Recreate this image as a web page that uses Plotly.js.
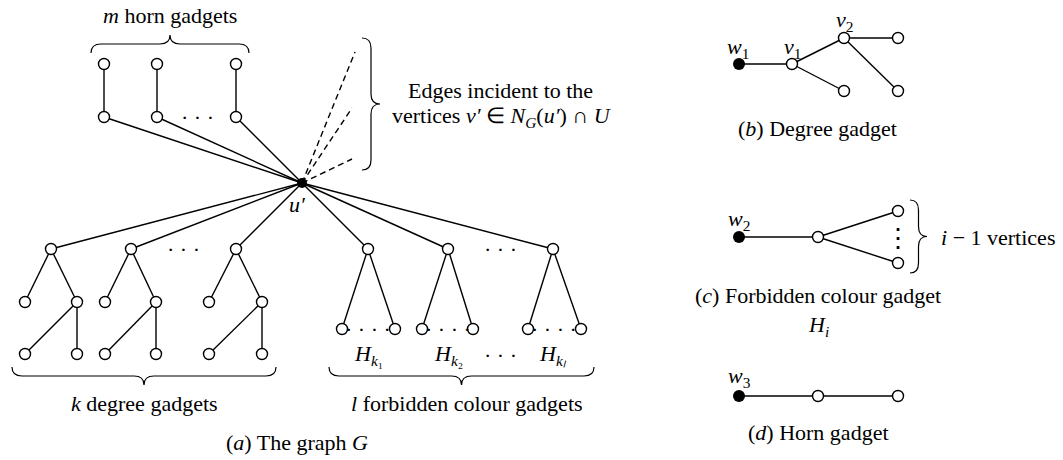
<!DOCTYPE html>
<html><head><meta charset="utf-8">
<script src="https://cdn.plot.ly/plotly-3.0.1.min.js"></script>
<style>html,body{margin:0;padding:0;background:#fff}#g{width:1063px;height:460px}</style>
</head><body><div id="g"></div>
<script>
// ---- Graph G (a) ----
const uPrime = [302, 183];
const hornX = [104, 157, 236];
const hornTopY = [64, 64, 64];
const hornBotY = [117, 117, 117];
const degRootX = [51, 131, 236];
const degRootY = [249, 249, 249];
const degMidLX = [25, 105, 209];
const degMidRX = [77, 156, 262];
const degMidY = [302, 302, 302];
const degLeafY = [354, 354, 354];
const forbRootX = [368, 448, 553];
const forbRootY = [249, 249, 249];
const forbLeafLX = [342, 422, 528];
const forbLeafRX = [395, 473, 581];
const forbLeafY = [329, 329, 329];
const dashEndX = [355, 352, 352];
const dashEndY = [52, 108, 159];
// ---- Degree gadget (b) ----
const bX = [739, 792, 844, 898, 844, 898];
const bY = [64, 64, 38, 38, 91, 91];
const bEdges = [[0,1],[1,2],[1,4],[2,3],[2,5]];
// ---- Forbidden colour gadget (c) ----
const cX = [739, 818, 898, 898];
const cY = [237, 237, 211, 263];
const cEdges = [[0,1],[1,2],[1,3]];
// ---- Horn gadget (d) ----
const dX = [739, 818, 898];
const dY = [396, 396, 396];
const dEdges = [[0,1],[1,2]];

// ---- build edges ----
const ex = [], ey = [];
function edge(a, b){ ex.push(a[0], b[0], null); ey.push(a[1], b[1], null); }
for (let i = 0; i < 3; i++) {
  edge([hornX[i], hornTopY[i]], [hornX[i], hornBotY[i]]);
  edge([hornX[i], hornBotY[i]], uPrime);
  edge([degRootX[i], degRootY[i]], uPrime);
  edge([degRootX[i], degRootY[i]], [degMidLX[i], degMidY[i]]);
  edge([degRootX[i], degRootY[i]], [degMidRX[i], degMidY[i]]);
  edge([degMidRX[i], degMidY[i]], [degMidLX[i], degLeafY[i]]);
  edge([degMidRX[i], degMidY[i]], [degMidRX[i], degLeafY[i]]);
  edge([forbRootX[i], forbRootY[i]], uPrime);
  edge([forbRootX[i], forbRootY[i]], [forbLeafLX[i], forbLeafY[i]]);
  edge([forbRootX[i], forbRootY[i]], [forbLeafRX[i], forbLeafY[i]]);
}
[[bX,bY,bEdges],[cX,cY,cEdges],[dX,dY,dEdges]].forEach(([X,Y,E]) => {
  E.forEach(([a,b]) => edge([X[a],Y[a]],[X[b],Y[b]]));
});
const dx = [], dy = [];
for (let i = 0; i < 3; i++) { dx.push(uPrime[0], dashEndX[i], null); dy.push(uPrime[1], dashEndY[i], null); }

// ---- nodes ----
const ox = [], oy = [];
for (let i = 0; i < 3; i++) {
  ox.push(hornX[i], hornX[i]); oy.push(hornTopY[i], hornBotY[i]);
  ox.push(degRootX[i], degMidLX[i], degMidRX[i], degMidLX[i], degMidRX[i]);
  oy.push(degRootY[i], degMidY[i], degMidY[i], degLeafY[i], degLeafY[i]);
  ox.push(forbRootX[i], forbLeafLX[i], forbLeafRX[i]);
  oy.push(forbRootY[i], forbLeafY[i], forbLeafY[i]);
}
ox.push(...bX.slice(1), ...cX.slice(1), ...dX.slice(1));
oy.push(...bY.slice(1), ...cY.slice(1), ...dY.slice(1));

const LW = 1.4;
const traces = [
  {x: ex, y: ey, mode: 'lines', line: {color: '#000', width: LW}, hoverinfo: 'skip'},
  {x: dx, y: dy, mode: 'lines', line: {color: '#000', width: LW, dash: '6px,4px'}, hoverinfo: 'skip'},
  {x: ox, y: oy, mode: 'markers', marker: {size: 11, color: '#fff', line: {color: '#000', width: LW}}, hoverinfo: 'skip'},
  {x: [bX[0], cX[0], dX[0]], y: [bY[0], cY[0], dY[0]], mode: 'markers', marker: {size: 12, color: '#000'}, hoverinfo: 'skip'},
  {x: [uPrime[0]], y: [uPrime[1]], mode: 'markers', marker: {size: 10, color: '#000'}, hoverinfo: 'skip'}
];

// ---- braces ----
function hBrace(x1, x2, yb, yt, r) {
  const m = (yb + yt) / 2, xc = (x1 + x2) / 2;
  return `M${x1},${yb} Q${x1},${m} ${x1+r},${m} L${xc-r},${m} Q${xc},${m} ${xc},${yt} Q${xc},${m} ${xc+r},${m} L${x2-r},${m} Q${x2},${m} ${x2},${yb}`;
}
function vBrace(y1, y2, xb, xt, r) {
  const m = (xb + xt) / 2, yc = (y1 + y2) / 2;
  return `M${xb},${y1} Q${m},${y1} ${m},${y1+r} L${m},${yc-r} Q${m},${yc} ${xt},${yc} Q${m},${yc} ${m},${yc+r} L${m},${y2-r} Q${m},${y2} ${xb},${y2}`;
}
const braceStyle = {color: '#000', width: 1.2};
const shapes = [
  hBrace(91, 249, 53, 35, 10),
  hBrace(12, 276, 367, 385, 10),
  hBrace(329, 594, 367, 385, 10),
  vBrace(38, 170, 362, 380, 10),
  vBrace(200, 273, 910, 927, 10)
].map(p => ({type: 'path', path: p, xref: 'x', yref: 'y', line: braceStyle}));

// ---- text ----
const F = {family: '"Liberation Serif", "Times New Roman", Times, serif', size: 22, color: '#000'};
function T(x, y, text, extra) {
  return Object.assign({x, y, xref: 'x', yref: 'y', text, showarrow: false, font: F, xanchor: 'center', yanchor: 'middle'}, extra || {});
}
const annotations = [
  T(170, 15, '<i>m</i> horn gadgets'),
  T(500, 90, 'Edges incident to the'),
  T(502, 117, 'vertices <i>v′</i> ∈ <i>N</i><sub><i>G</i></sub>(<i>u′</i>) ∩ <i>U</i>'),
  T(297, 204, '<i>u′</i>'),
  T(197, 117, '·&nbsp;·&nbsp;·'),
  T(183, 249, '·&nbsp;·&nbsp;·'),
  T(500, 249, '·&nbsp;·&nbsp;·'),
  T(500, 355, '·&nbsp;·&nbsp;·'),
  T(368, 329, '·&nbsp;·&nbsp;·&nbsp;·'),
  T(448, 329, '·&nbsp;·&nbsp;·&nbsp;·'),
  T(554, 329, '·&nbsp;·&nbsp;·&nbsp;·'),
  T(368, 355, '<i>H</i><sub><i>k</i>₁</sub>'),
  T(448, 355, '<i>H</i><sub><i>k</i>₂</sub>'),
  T(553, 355, '<i>H</i><sub><i>k</i><i>ₗ</i></sub>'),
  T(144, 403, '<i>k</i> degree gadgets'),
  T(467, 403, '<i>l</i> forbidden colour gadgets'),
  T(297, 442, '(<i>a</i>) The graph <i>G</i>'),
  T(738, 48, '<i>w</i><sub>1</sub>'),
  T(792, 48, '<i>v</i><sub>1</sub>'),
  T(844, 21, '<i>v</i><sub>2</sub>'),
  T(817, 128, '(<i>b</i>) Degree gadget'),
  T(739, 220, '<i>w</i><sub>2</sub>'),
  T(898, 238, '⋮', {font: Object.assign({}, F, {family: 'DejaVu Serif', size: 26})}),
  T(939, 237, '<i>i</i> − 1 vertices', {xanchor: 'left'}),
  T(818, 295, '(<i>c</i>) Forbidden colour gadget'),
  T(818, 326, '<i>H<sub>i</sub></i>'),
  T(739, 377, '<i>w</i><sub>3</sub>'),
  T(818, 432, '(<i>d</i>) Horn gadget')
];

const ax = {visible: false, showgrid: false, zeroline: false, fixedrange: true};
const layout = {
  width: 1063, height: 460,
  margin: {l: 0, r: 0, t: 0, b: 0},
  paper_bgcolor: '#fff', plot_bgcolor: '#fff',
  showlegend: false,
  xaxis: Object.assign({range: [0, 1063]}, ax),
  yaxis: Object.assign({range: [460, 0]}, ax),
  shapes, annotations
};
Plotly.newPlot('g', traces, layout, {staticPlot: true, displayModeBar: false});
</script></body></html>
